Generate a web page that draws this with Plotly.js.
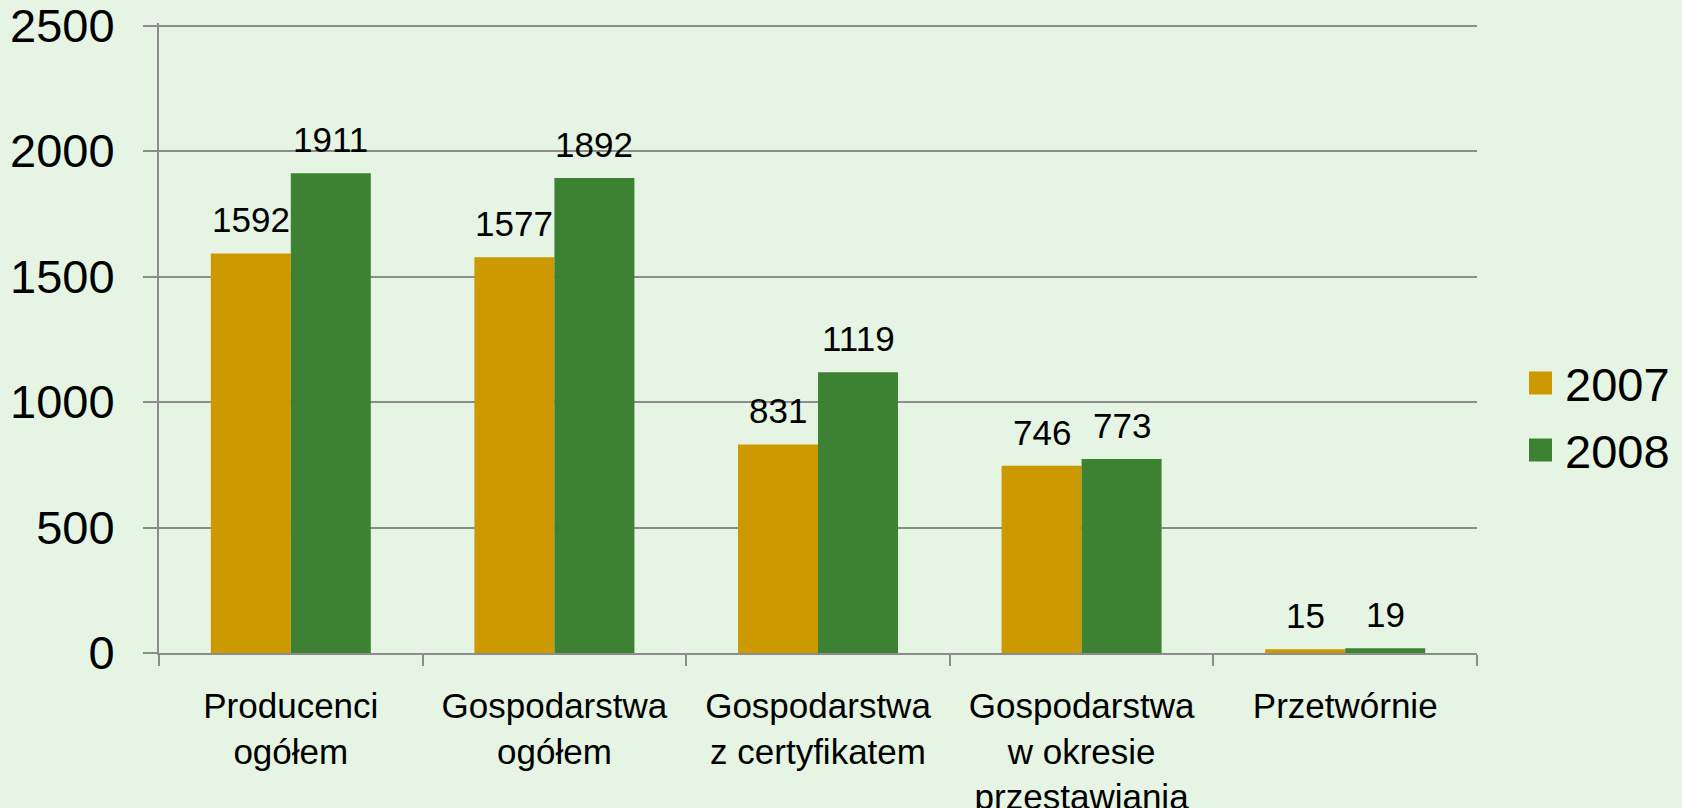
<!DOCTYPE html>
<html>
<head>
<meta charset="utf-8">
<script src="https://cdn.plot.ly/plotly-3.0.1.min.js"></script>
<style>
html,body{margin:0;padding:0;background:#E5F4E3;}
#chart{width:1682px;height:808px;}
</style>
</head>
<body>
<div id="chart"></div>
<script>
const categories = [
  "Producenci<br>ogółem",
  "Gospodarstwa<br>ogółem",
  "Gospodarstwa<br>z certyfikatem",
  "Gospodarstwa<br>w okresie<br>przestawiania",
  "Przetwórnie"
];
const seriesNames = ["2007", "2008"];
const values2007 = [1592, 1577, 831, 746, 15];
const values2008 = [1911, 1892, 1119, 773, 19];
const yTickValues = [0, 500, 1000, 1500, 2000, 2500];

const colors = ["#CC9900", "#3C8232"];
const FONT = "Liberation Sans, Arial, sans-serif";
const GRID = "#8C8C8C";

const W = 1682, H = 808;
const margin = {l: 159, r: 205, t: 23, b: 155};
const plotW = W - margin.l - margin.r;
const plotH = H - margin.t - margin.b;
const pxToPaperX = px => (px - margin.l) / plotW;
const pxToPaperY = py => (H - margin.b - py) / plotH;

const series = [values2007, values2008];
const traces = series.map((vals, i) => ({
  type: "bar",
  name: seriesNames[i],
  x: categories,
  y: vals,
  marker: {color: colors[i], line: {width: 0}},
  showlegend: false,
  hoverinfo: "x+y"
}));

const bargap = 0.393;
const catW = plotW / categories.length;
const barW = catW * (1 - bargap) / series.length;

const annotations = [];
series.forEach((vals, i) => {
  const xshift = (i - (series.length - 1) / 2) * barW;
  vals.forEach((v, j) => {
    annotations.push({
      x: categories[j], y: v, xref: "x", yref: "y",
      text: String(v), showarrow: false,
      xanchor: "center", yanchor: "bottom",
      xshift: xshift, yshift: 12,
      font: {family: FONT, size: 35, color: "#000000"}
    });
  });
});

// legend drawn with shapes + text for large swatches
const shapes = [];
const legendCenters = [383, 450];
const sw = 23;
seriesNames.forEach((name, i) => {
  const cy = legendCenters[i];
  shapes.push({
    type: "rect", xref: "paper", yref: "paper",
    x0: pxToPaperX(1529), x1: pxToPaperX(1529 + sw),
    y0: pxToPaperY(cy + sw / 2), y1: pxToPaperY(cy - sw / 2),
    fillcolor: colors[i], line: {width: 0}
  });
  annotations.push({
    xref: "paper", yref: "paper",
    x: pxToPaperX(1563), y: pxToPaperY(cy + 1),
    xanchor: "left", yanchor: "middle",
    text: name, showarrow: false,
    font: {family: FONT, size: 47, color: "#000000"}
  });
});

const layout = {
  width: W, height: H,
  margin: margin,
  paper_bgcolor: "#E5F4E3",
  plot_bgcolor: "#E5F4E3",
  font: {family: FONT, color: "#000000"},
  barmode: "group",
  bargap: bargap,
  bargroupgap: 0,
  showlegend: false,
  xaxis: {
    type: "category",
    tickson: "boundaries",
    ticks: "outside",
    ticklen: 11,
    tickwidth: 1.5,
    tickcolor: GRID,
    showline: true,
    linecolor: GRID,
    linewidth: 2,
    showgrid: false,
    zeroline: false,
    tickfont: {family: FONT, size: 35, color: "#000000"},
    ticklabelstandoff: 21,
    ticklabeloverflow: "allow",
    automargin: false
  },
  yaxis: {
    range: [0, 2510],
    tickvals: yTickValues,
    ticktext: yTickValues.map(String),
    ticks: "outside",
    ticklen: 14,
    tickwidth: 1.5,
    tickcolor: GRID,
    showline: true,
    linecolor: GRID,
    linewidth: 2,
    showgrid: true,
    gridcolor: GRID,
    gridwidth: 1.5,
    zeroline: false,
    tickfont: {family: FONT, size: 47, color: "#000000"},
    ticklabelstandoff: 19,
    ticklabeloverflow: "allow",
    automargin: false
  },
  annotations: annotations,
  shapes: shapes
};

Plotly.newPlot("chart", traces, layout, {displayModeBar: false, responsive: false});
</script>
</body>
</html>
